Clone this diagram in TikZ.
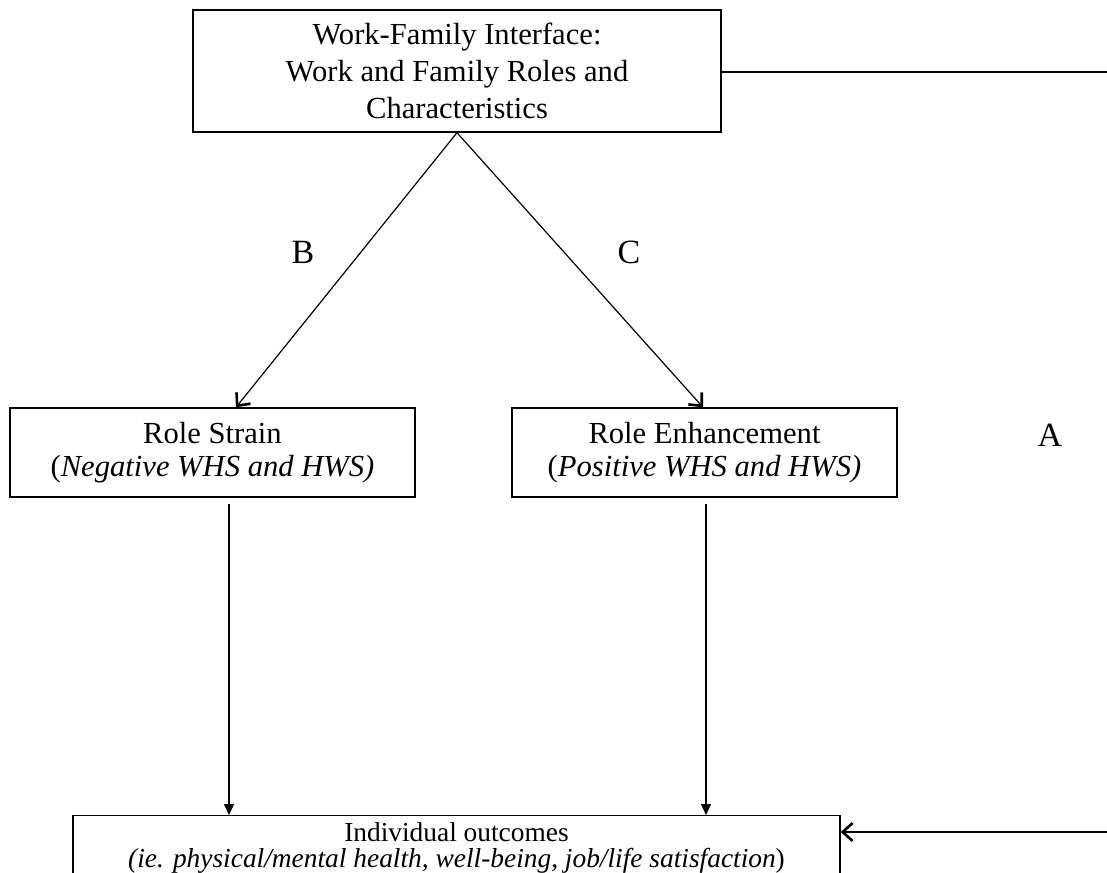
\documentclass[tikz,border=0pt]{standalone}
\usepackage{fontspec}
\setmainfont{Liberation Serif}
\usetikzlibrary{calc,arrows.meta}

\tikzset{
  box/.style={draw, line width=0.7pt, align=center, inner sep=0pt,
    font=\fontsize{15.3}{16.5}\selectfont},
  link/.style={line width=0.6pt, -{Straight Barb[length=5pt,width=9pt,line width=1.3pt]}},
  drop/.style={line width=0.6pt, -{Triangle[length=5.5pt,width=5pt]}},
  letter/.style={font=\fontsize{17}{20}\selectfont}
}

\begin{document}
\begin{tikzpicture}[x=0.5pt,y=-0.5pt]
  \useasboundingbox (0,0) rectangle (1107,872);

  \node[box, minimum width=264pt, minimum height=61pt] (wfi) at (457,71)
    {Work-Family Interface:\\[2pt]Work and Family Roles and\\[2pt]Characteristics};
  \node[box, minimum width=202.5pt, minimum height=44.5pt] (strain) at (212.5,452.5)
    {Role Strain\\(\textit{Negative WHS and HWS)}};
  \node[box, minimum width=192.5pt, minimum height=44.5pt] (enhance) at (704.5,452.5)
    {Role Enhancement\\(\textit{Positive WHS and HWS)}};
  % bottom box runs past the lower edge
  \node[box, minimum width=383.5pt, minimum height=45pt, anchor=north] (outcomes) at (456.5,815) {};
  \node[align=center, inner sep=0pt, anchor=north, font=\fontsize{13.7}{12.8}\selectfont] (outText)
    at ([yshift=-3.5pt]outcomes.north)
    {Individual outcomes\\\textit{(ie. physical/mental health, well-being, job/life satisfaction})};

  % path labels
  \node[letter] (labB) at (303,252) {B};
  \node[letter] (labC) at (629,252) {C};
  \node[letter] (labA) at (1050,435) {A};

  % B and C
  \draw[link] (wfi.south) -- ([xshift=11.75pt]strain.north);
  \draw[link] (wfi.south) -- ([xshift=-0.75pt]enhance.north);

  % down to outcomes
  \coordinate (sOut) at ($(strain.south)+(16.5,6)$);
  \coordinate (eOut) at ($(enhance.south)+(1.5,6)$);
  \draw[drop] (sOut) -- (sOut |- outcomes.north);
  \draw[drop] (eOut) -- (eOut |- outcomes.north);

  % A, runs off the right edge
  \coordinate (edgeTop) at (1107,72);
  \coordinate (edgeBot) at (1107,832);
  \draw[line width=0.7pt] (wfi.east |- edgeTop) -- (edgeTop);
  \draw[link] (edgeBot) -- (edgeBot -| outcomes.east);
\end{tikzpicture}
\end{document}
